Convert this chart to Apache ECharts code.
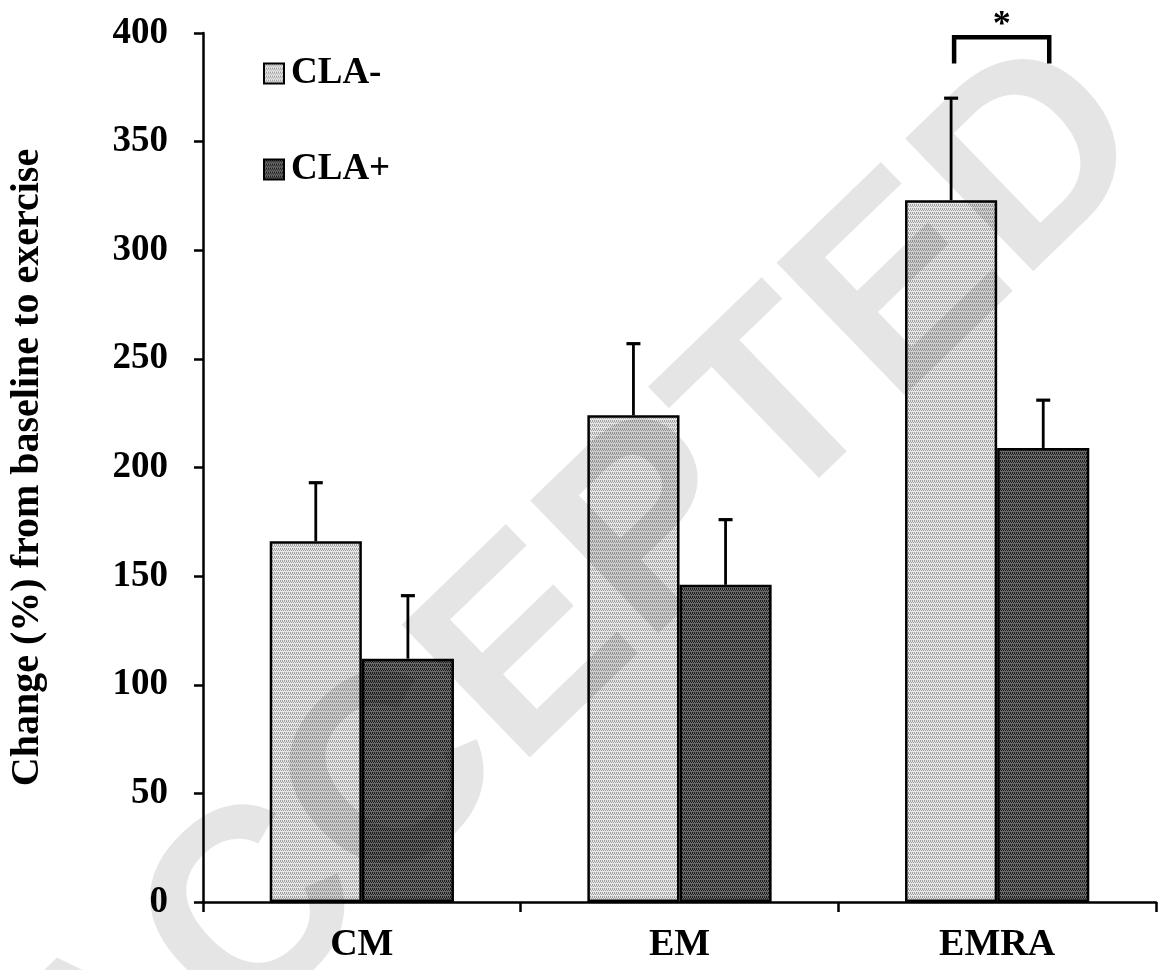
<!DOCTYPE html>
<html>
<head>
<meta charset="utf-8">
<script src="https://cdn.jsdelivr.net/npm/echarts@6/dist/echarts.min.js"></script>
<style>
html,body{margin:0;padding:0;background:#fff;}
#chart{width:1158px;height:970px;}
</style>
</head>
<body>
<div id="chart"></div>
<script>
// ---- data ----
var categories = ['CM', 'EM', 'EMRA'];
var seriesNames = ['CLA-', 'CLA+'];
var claMinus = [166, 224, 323];
var claMinusSD = [27, 33, 47];
var claPlus = [112, 146, 209];
var claPlusSD = [29, 30, 22];
var yTicks = [0, 50, 100, 150, 200, 250, 300, 350, 400];
var sigCategory = 'EMRA';
var sigBracketY = 398;
var sigLegY = 386;
var sigLabel = '*';
var yAxisTitle = 'Change (%) from baseline to exercise';
var watermark = 'ACCEPTED';

function makePattern(bg, dot) {
  var c = document.createElement('canvas');
  c.width = 4; c.height = 4;
  var g = c.getContext('2d');
  g.fillStyle = bg; g.fillRect(0, 0, 4, 4);
  g.fillStyle = dot;
  g.fillRect(0, 0, 1, 1); g.fillRect(2, 0, 1, 1);
  g.fillRect(1, 2, 1, 1); g.fillRect(3, 2, 1, 1);
  g.fillRect(0, 1, 1, 1); g.fillRect(2, 1, 1, 1);
  return {image: c, repeat: 'repeat'};
}
var lightFill = makePattern('#e6e6e6', '#a0a0a0');
var darkFill = makePattern('#6a6a6a', '#1e1e1e');

var FONT = "'Liberation Serif', 'Times New Roman', serif";
var GAP = 0.42;

var errData = [];
for (var i = 0; i < categories.length; i++) {
  errData.push([i, claMinus[i], claMinusSD[i], 0]);
  errData.push([i, claPlus[i], claPlusSD[i], 1]);
}

var chart = echarts.init(document.getElementById('chart'), null, {renderer: 'canvas'});

var option = {
  animation: false,
  backgroundColor: '#ffffff',
  grid: {left: 201, right: 2, top: 33, bottom: 68},
  legend: {
    data: seriesNames,
    orient: 'vertical',
    left: 263,
    top: 55,
    padding: 0,
    itemWidth: 20,
    itemHeight: 20,
    itemGap: 59,
    icon: 'rect',
    itemStyle: {borderColor: '#000', borderWidth: 2},
    textStyle: {fontFamily: FONT, fontWeight: 'bold', fontSize: 37, color: '#000', lineHeight: 36, padding: [0, 0, 0, 2]},
    selectedMode: false
  },
  xAxis: {
    type: 'category',
    data: categories,
    axisLine: {lineStyle: {color: '#000', width: 2.5}},
    axisTick: {show: true, length: 10, lineStyle: {color: '#000', width: 2.5}},
    axisLabel: {fontFamily: FONT, fontWeight: 'bold', fontSize: 38, color: '#000', margin: 24},
    splitLine: {show: false}
  },
  yAxis: {
    type: 'value',
    min: 0, max: 400, interval: 50,
    name: yAxisTitle,
    nameLocation: 'middle',
    nameGap: 155,
    nameRotate: 90,
    nameTextStyle: {fontFamily: FONT, fontWeight: 'bold', fontSize: 40, color: '#000'},
    axisLine: {show: true, lineStyle: {color: '#000', width: 2.5}},
    axisTick: {show: true, length: 9, lineStyle: {color: '#000', width: 2.5}},
    axisLabel: {fontFamily: FONT, fontWeight: 'bold', fontSize: 37, color: '#000', margin: 35,
      formatter: function (v) { return yTicks.indexOf(v) >= 0 ? String(v) : ''; }},
    splitLine: {show: false}
  },
  series: [
    {
      name: seriesNames[0], type: 'bar', data: claMinus,
      barGap: '0%', barCategoryGap: (GAP * 100) + '%',
      itemStyle: {color: lightFill, borderColor: '#000', borderWidth: 2.5}
    },
    {
      name: seriesNames[1], type: 'bar', data: claPlus,
      barGap: '0%', barCategoryGap: (GAP * 100) + '%',
      itemStyle: {color: darkFill, borderColor: '#000', borderWidth: 2.5}
    },
    {
      name: 'err', type: 'custom', data: errData, z: 5,
      renderItem: function (params, api) {
        var ci = api.value(0), m = api.value(1), sd = api.value(2), si = api.value(3);
        var base = api.coord([ci, m]);
        var top = api.coord([ci, m + sd]);
        var band = api.size([1, 0])[0];
        var bw = band * (1 - GAP) / 2;
        var x = base[0] + (si === 0 ? -bw / 2 : bw / 2);
        var st = {stroke: '#000', lineWidth: 2.8};
        return {
          type: 'group',
          children: [
            {type: 'line', shape: {x1: x, y1: base[1], x2: x, y2: top[1]}, style: st},
            {type: 'line', shape: {x1: x - 7, y1: top[1], x2: x + 7, y2: top[1]}, style: {stroke: '#000', lineWidth: 3.2}}
          ]
        };
      }
    }
  ]
};
chart.setOption(option);

// significance bracket from the scales
var ci = categories.indexOf(sigCategory);
var cPix = chart.convertToPixel({seriesIndex: 0}, [ci, sigBracketY]);
var legPix = chart.convertToPixel({yAxisIndex: 0}, sigLegY);
var band = chart.getModel().getComponent('xAxis', 0).axis.getBandWidth();
var bw = band * (1 - GAP) / 2;
var xL = cPix[0] - bw / 2 + 3, xR = cPix[0] + bw / 2 + 6;

chart.setOption({
  graphic: [
    {
      type: 'polyline', z: 10,
      shape: {points: [[xL, legPix], [xL, cPix[1]], [xR, cPix[1]], [xR, legPix]]},
      style: {stroke: '#000', lineWidth: 4.5, fill: null}
    },
    {
      type: 'text', z: 10,
      x: (xL + xR) / 2, y: cPix[1] - 12,
      style: {text: sigLabel, fontFamily: FONT, fontWeight: 'bold', fontSize: 36, fill: '#000', align: 'center', verticalAlign: 'middle'}
    },
    {
      type: 'text', z: 100, silent: true,
      x: 578, y: 608, rotation: 44 * Math.PI / 180,
      style: {text: watermark, fontFamily: "'Liberation Sans', Arial, sans-serif", fontWeight: 'bold', fontSize: 268,
        fill: 'rgba(0,0,0,0.1)', align: 'center', verticalAlign: 'middle'}
    }
  ]
});
</script>
</body>
</html>
